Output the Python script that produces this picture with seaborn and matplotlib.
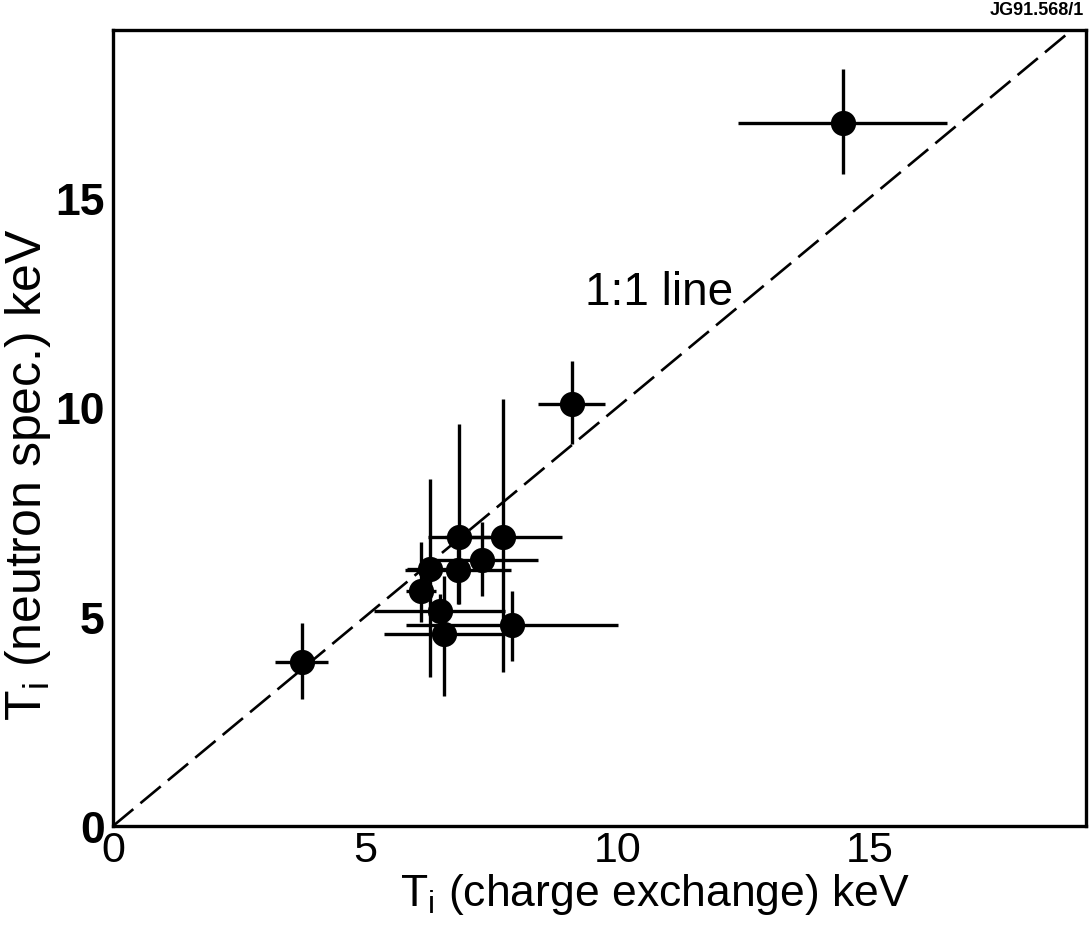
import numpy as np
import pandas as pd
import matplotlib
matplotlib.use("Agg")
import matplotlib.pyplot as plt
import seaborn as sns

# Data
x_cx = [3.74, 6.10, 6.28, 6.47, 6.56, 6.84, 6.86, 7.32, 7.73, 7.91, 9.09, 14.46]
y_ns = [3.92, 5.62, 6.14, 5.13, 4.58, 6.12, 6.91, 6.34, 6.90, 4.80, 10.08, 16.79]
x_err = [0.53, 0.30, 0.45, 1.29, 1.20, 1.05, 0.61, 1.10, 1.16, 2.10, 0.66, 2.07]
y_err_lo = [0.90, 0.75, 2.58, 0.40, 1.48, 0.82, 1.60, 0.84, 3.22, 0.85, 0.96, 1.22]
y_err_hi = [0.93, 1.16, 2.15, 0.40, 1.39, 0.82, 2.69, 0.92, 3.30, 0.82, 1.03, 1.29]
tick_vals = [0, 5, 10, 15]
tick_labels = ["0", "5", "10", "15"]

df = pd.DataFrame({"x": x_cx, "y": y_ns})

sns.set_style("white")
plt.rcParams["font.family"] = ["Liberation Sans", "DejaVu Sans"]
plt.rcParams["mathtext.default"] = "regular"
plt.rcParams["text.color"] = "black"
plt.rcParams["axes.labelcolor"] = "black"
plt.rcParams["xtick.color"] = "black"
plt.rcParams["ytick.color"] = "black"

fam = ["Liberation Sans", "DejaVu Sans"]

fig = plt.figure(figsize=(10.92, 9.28), dpi=100)
ax = fig.add_axes([113 / 1092, 1 - 827 / 928, (1086 - 113) / 1092, (827 - 31) / 928])

xmax, ymax = 19.28, 19.0
ax.set_xlim(0, xmax)
ax.set_ylim(0, ymax)

# 1:1 line
lim = np.array([0, max(xmax, ymax)])
ax.plot(lim, lim, color="black", lw=1.9, ls=(0, (10, 3.5)), zorder=1)

ax.errorbar(x_cx, y_ns, xerr=x_err, yerr=[y_err_lo, y_err_hi], fmt="none",
            ecolor="black", elinewidth=2.4, capsize=0, zorder=2)
sns.scatterplot(data=df, x="x", y="y", ax=ax, color="black", s=330,
                edgecolor="black", linewidth=0, zorder=3, legend=False)

ax.text(9.35, 12.47, "1:1 line", fontsize=33, ha="left", va="baseline",
        family=fam, color="black")

for s in ax.spines.values():
    s.set_linewidth(2.4)
    s.set_color("black")

ax.set_xticks(tick_vals)
ax.set_yticks(tick_vals)
ax.set_xticklabels(tick_labels, fontsize=31, family=fam, color="black")
ax.set_yticklabels(tick_labels, fontsize=32, fontweight="bold", family=fam,
                   color="black")
ax.tick_params(axis="both", direction="in", length=12, width=1.8, color="black",
               labelcolor="black")
ax.tick_params(axis="x", pad=3)
ax.tick_params(axis="y", pad=6)

ax.set_xlabel(r"T$_{i}$ (charge exchange) keV", fontsize=32, family=fam,
              color="black")
ax.set_ylabel(r"T$_{i}$ (neutron spec.) keV", fontsize=36, family=fam,
              color="black")
ax.xaxis.set_label_coords(0.557, -0.056)
ax.yaxis.set_label_coords(-0.062, 0.442)

fig.text(1084 / 1092, 1 - 15 / 928, "JG91.568/1", fontsize=13, fontweight="bold",
         ha="right", va="baseline", color="black")

fig.savefig("out.png", dpi=100)
